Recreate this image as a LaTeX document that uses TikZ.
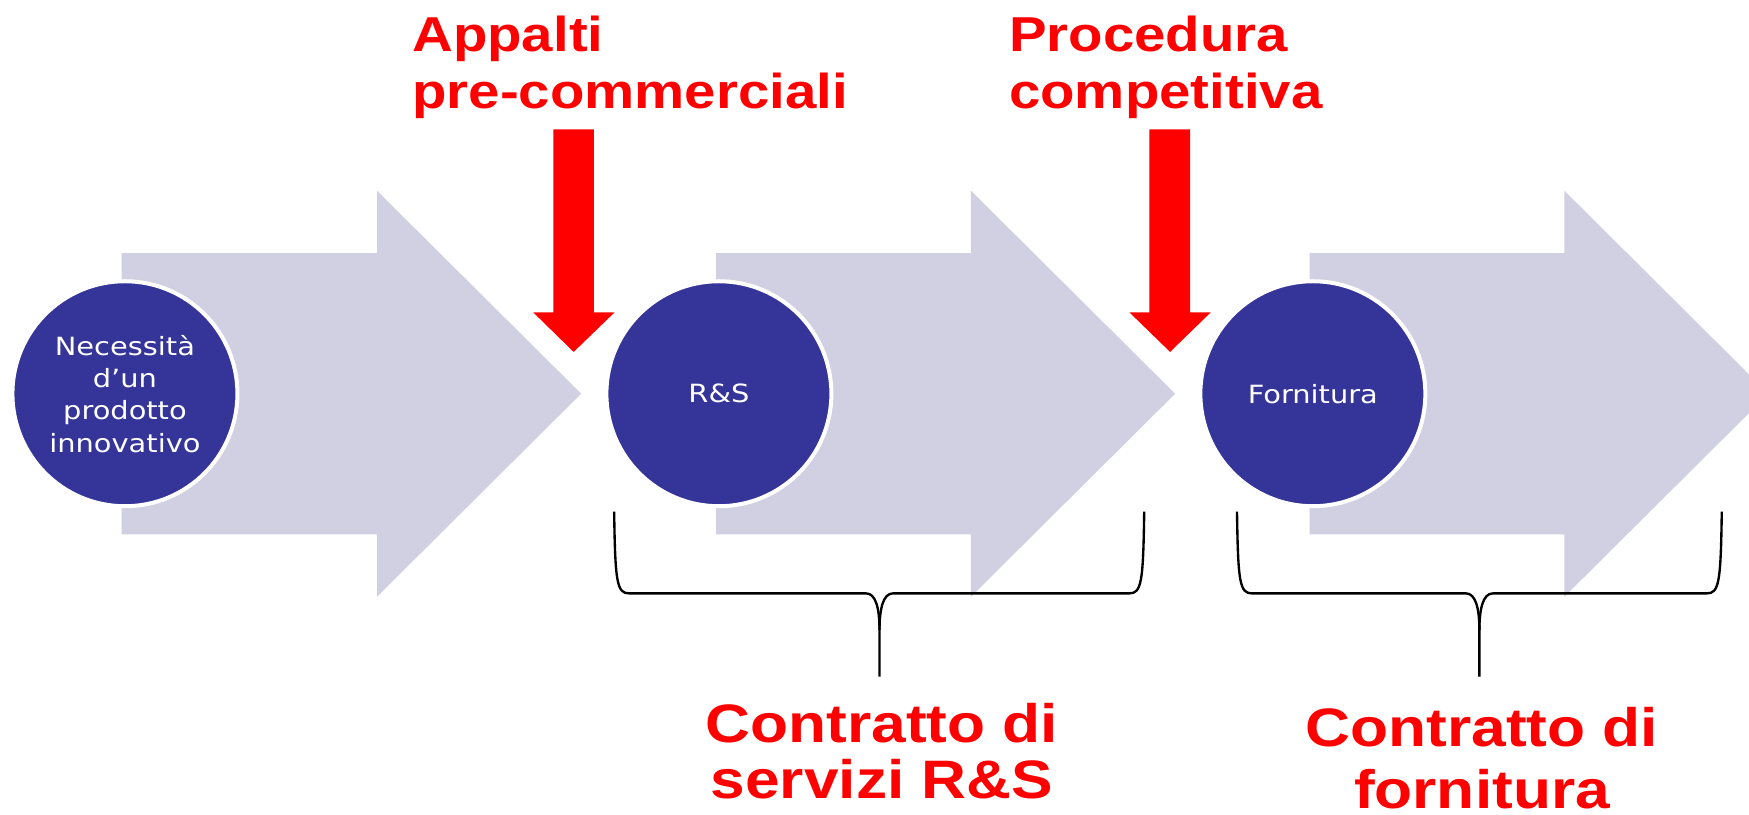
\documentclass[tikz,border=0pt]{standalone}
\usepackage{fontspec}
\usepackage{tikz}
\newfontfamily\stepfont[FakeStretch=1.15]{DejaVu Sans}
\newfontfamily\labelfont[FakeStretch=1.15]{Liberation Sans}
\definecolor{stepblue}{RGB}{53,53,153}
\definecolor{chevrongrey}{RGB}{208,208,226}

\begin{document}
\begin{tikzpicture}[x=0.01cm, y=-0.01cm]
\tikzstyle{phase}=[shape=circle, fill=stepblue, draw=white, line width=1.02pt, minimum size=2.016cm, inner sep=0pt, text=white, align=center, font=\stepfont\fontsize{6.4}{8.25}\selectfont];
\tikzstyle{chevron}=[fill=chevrongrey];
\tikzstyle{toplabel}=[text=red, inner sep=0pt, anchor=base west, align=left, font=\labelfont\bfseries\fontsize{12.5}{14.45}\selectfont];
\tikzstyle{contract}=[text=red, inner sep=0pt, anchor=base, align=center];
\tikzstyle{curly}=[black, line width=0.6pt];
\useasboundingbox (0,0) rectangle (1568,729.8);
\clip (0,0) rectangle (1568,729.8);
\fill[chevron] (109,227) -- (338,227) -- (338,171) -- (521,353) -- (338,535) -- (338,479) -- (109,479) -- cycle;
\fill[chevron] (642,227) -- (870.5,227) -- (870.5,171) -- (1053.5,353) -- (870.5,535) -- (870.5,479) -- (642,479) -- cycle;
\fill[chevron] (1174,227) -- (1402.5,227) -- (1402.5,171) -- (1585.5,353) -- (1402.5,535) -- (1402.5,479) -- (1174,479) -- cycle;
\path (112,353) node[phase] (N) {Necessità\\d’un\\prodotto\\innovativo};
\path (644.5,353) node[phase] (R) {R\&S};
\path (1177,353) node[phase] (F) {Fornitura};
\fill[red] (496,116) -- (532.5,116) -- (532.5,280) -- (551,280) -- (514.3,315.5) -- (478,280) -- (496,280) -- cycle;
\fill[red] (1030.5,116) -- (1067,116) -- (1067,280) -- (1085.5,280) -- (1049,315.5) -- (1012.5,280) -- (1030.5,280) -- cycle;
\path (369,97.1) node[toplabel] (A) {Appalti\\pre-commerciali};
\path (904,97.2) node[toplabel] (P) {Procedura\\competitiva};
\draw[curly] (550.6,458.7) .. controls (551.5,522) and (553,532) .. (564,532) -- (776.5,532) .. controls (785,532) and (788.5,545) .. (788.5,565) -- (788.5,606.6);
\draw[curly] (1025.8,458.7) .. controls (1024.9,522) and (1023.4,532) .. (1012.4,532) -- (800.5,532) .. controls (792,532) and (788.5,545) .. (788.5,565);
\draw[curly] (1109,458.7) .. controls (1109.9,522) and (1111.4,532) .. (1122.4,532) -- (1314.3,532) .. controls (1322.8,532) and (1326.3,545) .. (1326.3,565) -- (1326.3,606.6);
\draw[curly] (1543.6,458.7) .. controls (1542.7,522) and (1541.2,532) .. (1530.2,532) -- (1338.3,532) .. controls (1329.8,532) and (1326.3,545) .. (1326.3,565);
\path (790.7,715.7) node[contract, font=\labelfont\bfseries\fontsize{13.8}{14.2}\selectfont] (CS) {Contratto di\\servizi R\&S};
\path (1328.6,724.7) node[contract, font=\labelfont\bfseries\fontsize{13.8}{15.73}\selectfont] (CF) {Contratto di\\fornitura};
\end{tikzpicture}
\end{document}
